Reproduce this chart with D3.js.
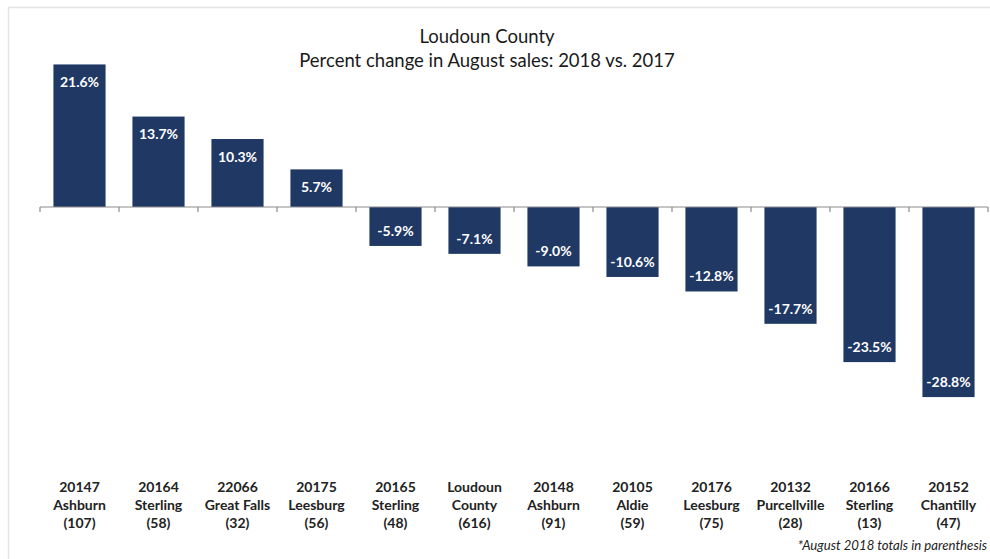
<!DOCTYPE html>
<html>
<head>
<meta charset="utf-8">
<script src="https://cdn.jsdelivr.net/npm/d3@7/dist/d3.min.js"></script>
<style>
  html, body { margin: 0; padding: 0; background: #fff; }
  svg { display: block; }
</style>
</head>
<body>
<svg id="chart" width="990" height="559"></svg>
<script>
// ZIP code, town and August 2018 sales count for each area
const zips   = ["20147", "20164", "22066", "20175", "20165", "Loudoun", "20148", "20105", "20176", "20132", "20166", "20152"];
const towns  = ["Ashburn", "Sterling", "Great Falls", "Leesburg", "Sterling", "County", "Ashburn", "Aldie", "Leesburg", "Purcellville", "Sterling", "Chantilly"];
const counts = [107, 58, 32, 56, 48, 616, 91, 59, 75, 28, 13, 47];
// Percent change in August sales, 2018 vs. 2017
const changes = [21.6, 13.7, 10.3, 5.7, -5.9, -7.1, -9.0, -10.6, -12.8, -17.7, -23.5, -28.8];

const rows = zips.map((z, i) => ({ zip: z, town: towns[i], count: counts[i], change: changes[i] }));

const svg = d3.select("#chart");
const W = 990, H = 559;
const barColor = "#1f3864";
const font = "Lato, 'Open Sans', sans-serif";
// plain hyphen for negatives
const pct = v => d3.formatLocale({ decimal: ".", thousands: ",", grouping: [3], currency: ["", ""], minus: "-" }).format(".1f")(v) + "%";

// chart area frame
svg.append("rect")
  .attr("x", 8.5).attr("y", 7.5)
  .attr("width", W).attr("height", H)
  .attr("fill", "none").attr("stroke", "#e4e4e4").attr("stroke-width", 1.5);

const x = d3.scaleBand()
  .domain(rows.map((d, i) => i))
  .range([40, 988])
  .paddingInner(0.34)
  .paddingOuter(0.17);

const y = d3.scaleLinear().domain([-35, 25]).range([438, 42]);

// title
const title = svg.append("text")
  .attr("text-anchor", "middle")
  .attr("font-family", font).attr("font-size", 18.5).attr("fill", "#1a1a1a");
title.append("tspan").attr("x", 487).attr("y", 43).text("Loudoun County");
title.append("tspan").attr("x", 487).attr("y", 67).text("Percent change in August sales: 2018 vs. 2017");

// bars
svg.append("g").selectAll("rect")
  .data(rows).join("rect")
  .attr("x", (d, i) => x(i))
  .attr("width", x.bandwidth())
  .attr("y", d => y(Math.max(0, d.change)))
  .attr("height", d => Math.abs(y(d.change) - y(0)))
  .attr("fill", barColor);

// zero axis with ticks at category boundaries
const step = x.step();
const axis = svg.append("g").attr("stroke", "#8c8c8c").attr("stroke-width", 1.2);
axis.append("line")
  .attr("x1", 40).attr("x2", 988)
  .attr("y1", y(0)).attr("y2", y(0));
axis.selectAll("line.tick")
  .data(d3.range(rows.length + 1)).join("line")
  .attr("class", "tick")
  .attr("x1", i => 40 + i * step).attr("x2", i => 40 + i * step)
  .attr("y1", y(0)).attr("y2", y(0) + 5);

// value labels inside bar ends
svg.append("g").selectAll("text")
  .data(rows).join("text")
  .attr("x", (d, i) => x(i) + x.bandwidth() / 2)
  .attr("y", d => d.change >= 0 ? y(d.change) + 22.5 : y(d.change) - 10)
  .attr("text-anchor", "middle")
  .attr("font-family", font).attr("font-weight", "bold").attr("font-size", 14)
  .attr("fill", "#ffffff")
  .text(d => pct(d.change));

// category labels
const cats = svg.append("g").selectAll("text")
  .data(rows).join("text")
  .attr("text-anchor", "middle")
  .attr("font-family", font).attr("font-weight", "bold").attr("font-size", 14)
  .attr("fill", "#222");
cats.append("tspan").attr("x", (d, i) => x(i) + x.bandwidth() / 2).attr("y", 492).text(d => d.zip);
cats.append("tspan").attr("x", (d, i) => x(i) + x.bandwidth() / 2).attr("y", 510).text(d => d.town);
cats.append("tspan").attr("x", (d, i) => x(i) + x.bandwidth() / 2).attr("y", 528).text(d => "(" + d.count + ")");

// footnote
svg.append("text")
  .attr("x", 987).attr("y", 550).attr("text-anchor", "end")
  .attr("font-family", font).attr("font-style", "italic").attr("font-size", 13.2)
  .attr("fill", "#222")
  .text("*August 2018 totals in parenthesis");
</script>
</body>
</html>
